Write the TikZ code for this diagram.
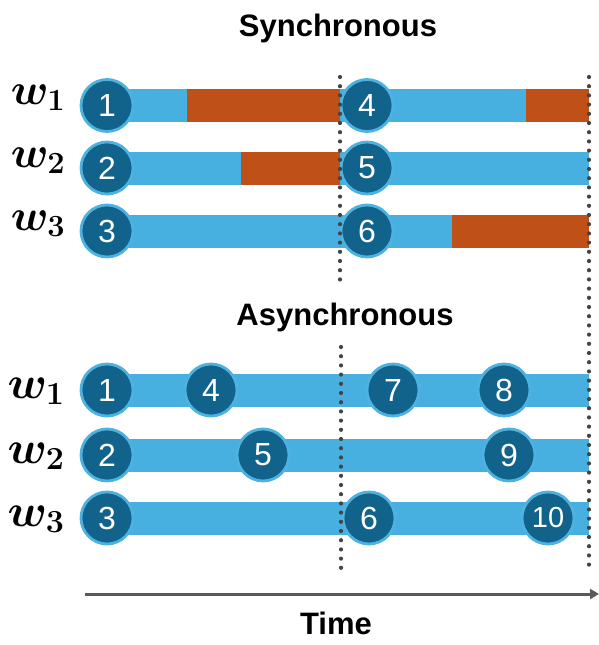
\documentclass[tikz,border=0pt]{standalone}
\usepackage{fix-cm}
\usepackage{bm}
\usepackage[no-math]{fontspec}
\setmainfont{Liberation Sans}
\usetikzlibrary{arrows.meta}

\definecolor{barblue}{RGB}{71,176,224}
\definecolor{taskdark}{RGB}{17,99,140}
\definecolor{ringblue}{RGB}{78,178,224}
\definecolor{idleorange}{RGB}{191,80,23}
\definecolor{dotgray}{RGB}{68,68,68}
\definecolor{axisgray}{RGB}{89,89,89}

\tikzset{
  busy/.style={fill=barblue},
  idle/.style={fill=idleorange},
  task/.style={circle, fill=taskdark, draw=ringblue, line width=2.8pt,
    minimum size=52pt, inner sep=0pt, text=white,
    font=\fontsize{32}{32}\selectfont},
  syncmark/.style={draw=dotgray, line width=4.2pt, line cap=round,
    dash pattern=on 0pt off 9.2pt},
  heading/.style={anchor=base, font=\fontsize{31}{31}\selectfont\bfseries},
  worker/.style={anchor=base, inner sep=0pt},
}

\begin{document}
\begin{tikzpicture}[x=1pt, y=-1pt]
\useasboundingbox (0,0) rectangle (599,645);

% ---------- synchronous schedule ----------
\node[heading] (synctitle) at (338,36) {Synchronous};

\node[worker, font=\fontsize{44}{44}\selectfont] (sw1) at (38,104) {$\bm{w}_{\bm{1}}$};
\node[worker, font=\fontsize{44}{44}\selectfont] (sw2) at (38,167) {$\bm{w}_{\bm{2}}$};
\node[worker, font=\fontsize{44}{44}\selectfont] (sw3) at (38,230) {$\bm{w}_{\bm{3}}$};

% worker 1
\path[busy] (107,88.5) rectangle (187,121.5);
\path[idle] (187,88.5) rectangle (340,121.5);
\path[busy] (340,88.5) rectangle (526,121.5);
\path[idle] (526,88.5) rectangle (589,121.5);
% worker 2
\path[busy] (107,151.5) rectangle (241,184.5);
\path[idle] (241,151.5) rectangle (340,184.5);
\path[busy] (340,151.5) rectangle (589,184.5);
% worker 3
\path[busy] (107,214.5) rectangle (452,247.5);
\path[idle] (452,214.5) rectangle (589,247.5);

\node[task] (s1) at (107,105.5) {1};
\node[task] (s2) at (107,168) {2};
\node[task] (s3) at (107,231) {3};
\node[task] (s4) at (367,105.5) {4};
\node[task] (s5) at (367,168) {5};
\node[task] (s6) at (367,231) {6};

% ---------- asynchronous schedule ----------
\node[heading] (asynctitle) at (345,325) {Asynchronous};

\node[worker, font=\fontsize{46}{46}\selectfont] (aw1) at (36,398) {$\bm{w}_{\bm{1}}$};
\node[worker, font=\fontsize{46}{46}\selectfont] (aw2) at (36,463) {$\bm{w}_{\bm{2}}$};
\node[worker, font=\fontsize{46}{46}\selectfont] (aw3) at (36,526) {$\bm{w}_{\bm{3}}$};

\path[busy] (107,373.5) rectangle (589,406.5);
\path[busy] (107,438.5) rectangle (589,471.5);
\path[busy] (107,501.5) rectangle (589,534.5);

\node[task] (a1) at (107,390) {1};
\node[task] (a4) at (211,390) {4};
\node[task] (a7) at (393,390) {7};
\node[task] (a8) at (504,390) {8};
\node[task] (a2) at (107,455) {2};
\node[task] (a5) at (263,455) {5};
\node[task] (a9) at (509,455) {9};
\node[task] (a3) at (107,518) {3};
\node[task] (a6) at (369,518) {6};
\node[task, font=\fontsize{29}{29}\selectfont] (a10) at (548,518) {10};

% ---------- synchronisation barriers ----------
\coordinate (b1top) at (340,77);
\coordinate (b1bot) at (340,280);
\coordinate (b2top) at (341,347);
\coordinate (b2bot) at (341,568);
\coordinate (b3top) at (589,77);
\coordinate (b3bot) at (589,573);
\draw[syncmark] (b1top) -- (b1bot);
\draw[syncmark] (b2top) -- (b2bot);
\draw[syncmark] (b3top) -- (b3bot);

% ---------- time axis ----------
\coordinate (t0) at (85,594);
\coordinate (t1) at (599,594);
\draw[axisgray, line width=3pt, -{Triangle[length=9pt,width=10pt]}] (t0) -- (t1);
\node[heading] (timelabel) at (336,634) {Time};
\end{tikzpicture}
\end{document}
